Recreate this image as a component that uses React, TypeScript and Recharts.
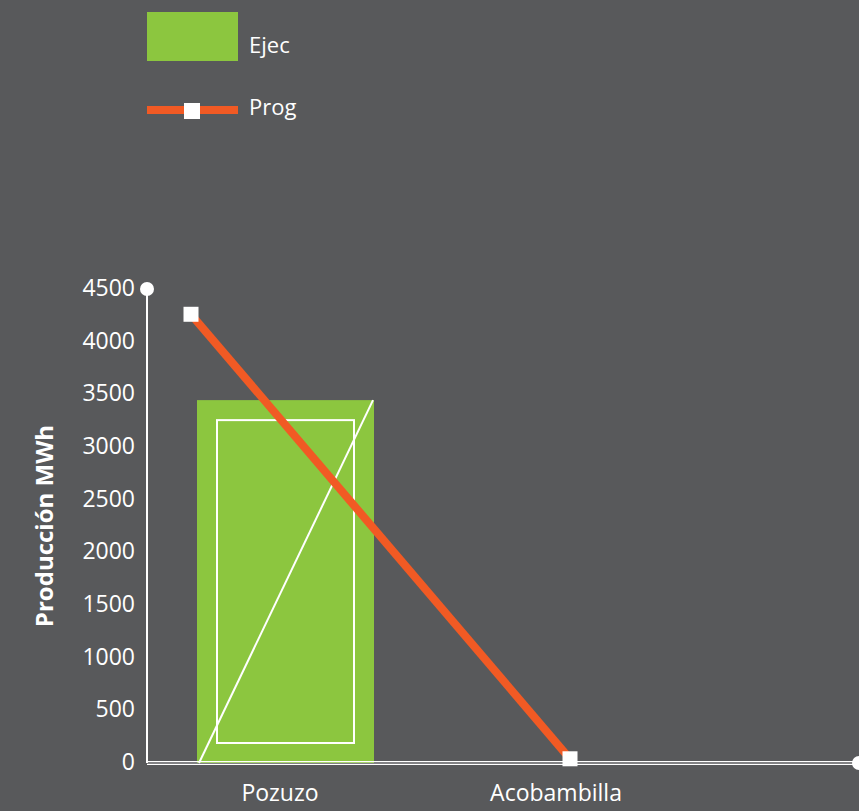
import React from 'react'
import { ComposedChart, Bar, Line, XAxis, YAxis, ReferenceLine } from 'recharts'

// Producción por central: ejecutado vs programado (MWh)
const centrales = ['Pozuzo', 'Acobambilla']
const ejecutado: (number | null)[] = [3445, null]
const programado = [4260, 40]
const yTicks = [0, 500, 1000, 1500, 2000, 2500, 3000, 3500, 4000, 4500]

const BG = '#58595b'
const GREEN = '#8cc63f'
const ORANGE = '#f15a24'
const FONT = '"Open Sans", "Noto Sans", sans-serif'

const data = centrales.map((name, i) => ({
  name,
  ejec: ejecutado[i],
  prog: programado[i],
}))

// bar with the inner outline + corner-to-corner diagonal seen in the source
function EjecShape(props: any) {
  const { x, y, width, height } = props
  if (!height || height <= 0) return null
  const inset = 20
  return (
    <g>
      <rect x={x} y={y} width={width} height={height} fill={GREEN} />
      <rect
        x={x + inset}
        y={y + inset}
        width={width - inset * 2}
        height={height - inset * 2}
        fill="none"
        stroke="#fff"
        strokeWidth={2}
      />
      <line x1={x + 2} y1={y + height} x2={x + width - 1} y2={y} stroke="#fff" strokeWidth={2} />
    </g>
  )
}

function SquareDot(props: any) {
  const { cx, cy } = props
  if (cx == null || cy == null) return null
  return <rect x={cx - 7.5} y={cy - 7.5} width={15} height={15} fill="#fff" />
}

function Legend() {
  return (
    <svg width={300} height={130} style={{ position: 'absolute', left: 0, top: 0 }}>
      <rect x={147} y={12} width={91} height={49} fill={GREEN} />
      <text x={249} y={53} fill="#fff" fontSize={22} fontFamily={FONT}>Ejec</text>
      <line x1={147} y1={110} x2={238} y2={110} stroke={ORANGE} strokeWidth={8} />
      <rect x={184} y={103} width={16} height={16} fill="#fff" />
      <text x={249} y={115} fill="#fff" fontSize={22} fontFamily={FONT}>Prog</text>
    </svg>
  )
}

export default function App() {
  return (
    <div style={{ position: 'absolute', left: 0, top: 0, width: 859, height: 811, background: BG, overflow: 'hidden' }}>
      <ComposedChart
        width={859}
        height={811}
        data={data}
        margin={{ top: 289, right: 0, bottom: 8, left: 47 }}
        style={{ fontFamily: FONT }}
      >
        <XAxis
          xAxisId="bar"
          dataKey="name"
          padding={{ left: 0, right: 160 }}
          axisLine={false}
          tickLine={false}
          tickMargin={16}
          height={40}
          tick={{ fill: '#fff', fontSize: 23, dx: -5 }}
        />
        <XAxis xAxisId="line" dataKey="name" scale="point" padding={{ left: 44, right: 289 }} hide />
        <YAxis
          domain={[0, 4500]}
          ticks={yTicks}
          interval={0}
          width={100}
          tickLine={false}
          tickMargin={6}
          axisLine={{ stroke: '#fff', strokeWidth: 2 }}
          tick={{ fill: '#fff', fontSize: 23, dy: -1 }}
          label={{
            value: 'Producción MWh',
            angle: -90,
            position: 'insideLeft',
            offset: 0,
            dx: -3,
            fill: '#fff',
            fontSize: 24,
            fontWeight: 700,
            style: { textAnchor: 'middle' },
          }}
        />
        <Bar
          xAxisId="bar"
          dataKey="ejec"
          barSize={177}
          shape={<EjecShape />}
          isAnimationActive={false}
        />
        <ReferenceLine
          xAxisId="bar"
          y={0}
          ifOverflow="visible"
          shape={(p: any) => (
            <g>
              <line x1={p.x1} y1={p.y1 - 1.3} x2={p.x2} y2={p.y2 - 1.3} stroke="#fff" strokeWidth={1.3} />
              <line x1={p.x1} y1={p.y1 + 1.3} x2={p.x2} y2={p.y2 + 1.3} stroke="#fff" strokeWidth={1.3} />
              <circle cx={p.x2} cy={p.y2} r={7} fill="#fff" />
            </g>
          )}
        />
        <ReferenceLine
          xAxisId="bar"
          y={4500}
          ifOverflow="visible"
          shape={(p: any) => <circle cx={p.x1} cy={p.y1} r={7} fill="#fff" />}
        />
        <Line
          xAxisId="line"
          dataKey="prog"
          stroke={ORANGE}
          strokeWidth={8}
          dot={<SquareDot />}
          activeDot={false}
          isAnimationActive={false}
        />
      </ComposedChart>
      <Legend />
    </div>
  )
}
